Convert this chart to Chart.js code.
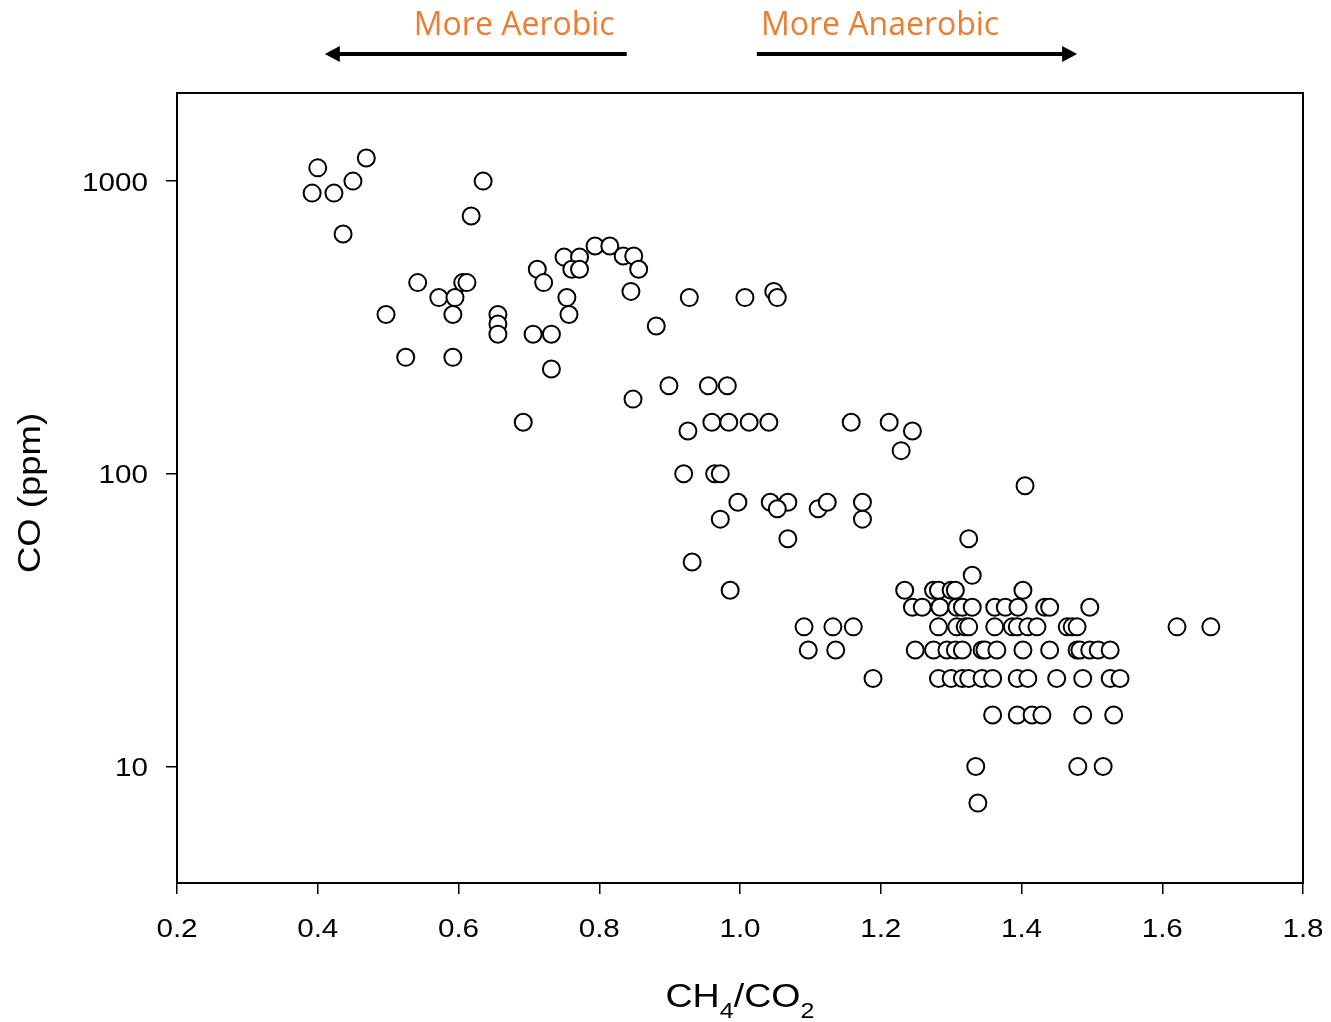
<!DOCTYPE html>
<html>
<head>
<meta charset="utf-8">
<title>CO vs CH4/CO2</title>
<script src="https://cdn.jsdelivr.net/npm/chart.js@4/dist/chart.umd.min.js"></script>
<style>
  body { margin: 0; background: #fff; }
  #wrap { width: 1331px; height: 1022px; }
</style>
</head>
<body>
<div id="wrap"><canvas id="coChart" width="1331" height="1022"></canvas></div>
<script>
// CH4/CO2 ratio and CO (ppm), one entry per circle
const ch4co2 = [
  0.392, 0.400, 0.423, 0.450, 0.469, 0.436, 0.635, 0.618,
  0.497, 0.525, 0.542, 0.572, 0.595, 0.592, 0.592, 0.606, 0.612, 0.656, 0.656, 0.656,
  0.706, 0.732, 0.732, 0.692, 0.712, 0.721, 0.750, 0.772, 0.761, 0.772, 0.794, 0.815,
  0.834, 0.849, 0.856, 0.845, 0.754, 0.757, 0.881, 0.899, 0.848,
  0.928, 1.007, 1.048, 1.053, 0.955, 0.982, 0.960, 0.984, 1.013, 1.041, 1.158, 0.926,
  0.920, 0.964, 0.972, 0.997, 1.043, 1.068, 1.053, 1.111, 1.124, 1.174, 1.174, 0.972,
  1.068, 0.932, 0.986, 1.212, 1.245, 1.229, 1.405, 1.325, 1.330,
  // 40 ppm row
  1.234, 1.275, 1.282, 1.300, 1.306, 1.402,
  // 35 ppm row
  1.245, 1.259, 1.284, 1.308, 1.316, 1.330, 1.362, 1.377, 1.395, 1.433, 1.440, 1.497,
  // 30 ppm row
  1.091, 1.132, 1.161, 1.282, 1.308, 1.320, 1.325, 1.362, 1.387, 1.394, 1.409, 1.422,
  1.465, 1.472, 1.479, 1.621, 1.669,
  // 25 ppm row
  1.097, 1.136, 1.249, 1.275, 1.294, 1.306, 1.316, 1.344, 1.348, 1.365, 1.402, 1.440,
  1.479, 1.483, 1.497, 1.509, 1.526,
  // 20 ppm row
  1.189, 1.282, 1.300, 1.316, 1.325, 1.344, 1.359, 1.394, 1.409, 1.450, 1.487, 1.526, 1.540,
  // 15, 10, 7.5 ppm
  1.359, 1.394, 1.415, 1.429, 1.487, 1.531,
  1.335, 1.480, 1.516,
  1.338
];
const coPpm = [
  910, 1110, 910, 1000, 1200, 660, 1000, 760,
  350, 250, 450, 400, 400, 350, 250, 450, 450, 350, 325, 300,
  300, 300, 228, 150, 500, 450, 550, 550, 500, 500, 600, 600,
  555, 555, 500, 420, 400, 350, 320, 200, 180,
  400, 400, 420, 400, 200, 200, 150, 150, 150, 150, 150, 140,
  100, 100, 100, 80, 80, 80, 76, 76, 80, 80, 70, 70,
  60, 50, 40, 150, 140, 120, 91, 60, 45,
  40, 40, 40, 40, 40, 40,
  35, 35, 35, 35, 35, 35, 35, 35, 35, 35, 35, 35,
  30, 30, 30, 30, 30, 30, 30, 30, 30, 30, 30, 30,
  30, 30, 30, 30, 30,
  25, 25, 25, 25, 25, 25, 25, 25, 25, 25, 25, 25,
  25, 25, 25, 25, 25,
  20, 20, 20, 20, 20, 20, 20, 20, 20, 20, 20, 20, 20,
  15, 15, 15, 15, 15, 15,
  10, 10, 10,
  7.5
];

const xTicks = [0.2, 0.4, 0.6, 0.8, 1.0, 1.2, 1.4, 1.6, 1.8];
const xTickLabels = ['0.2', '0.4', '0.6', '0.8', '1.0', '1.2', '1.4', '1.6', '1.8'];
const yTicks = [10, 100, 1000];
const yTickLabels = ['10', '100', '1000'];

// direction arrows above the plot, in CH4/CO2 units
const aerobicArrow = { label: 'More Aerobic', from: 0.839, to: 0.41 };
const anaerobicArrow = { label: 'More Anaerobic', from: 1.024, to: 1.479 };

const points = ch4co2.map((x, i) => ({ x: x, y: coPpm[i] }));

const STRETCH = 1.14;
const AXIS_FONT = '"Liberation Sans", Arial, sans-serif';

function stretchedText(ctx, text, x, y, align, font) {
  ctx.save();
  ctx.font = font;
  ctx.textAlign = align;
  ctx.textBaseline = 'alphabetic';
  ctx.translate(x, y);
  ctx.scale(STRETCH, 1);
  ctx.fillText(text, 0, 0);
  ctx.restore();
}

const decorPlugin = {
  id: 'decor',
  afterDraw(chart) {
    const ctx = chart.ctx;
    const area = chart.chartArea;
    const xs = chart.scales.x;
    const ys = chart.scales.y;

    // frame
    ctx.save();
    ctx.strokeStyle = '#000';
    ctx.lineWidth = 2;
    ctx.strokeRect(area.left, area.top, area.right - area.left, area.bottom - area.top);
    ctx.restore();

    // tick labels
    ctx.fillStyle = '#000';
    xTicks.forEach((v, i) => {
      stretchedText(ctx, xTickLabels[i], xs.getPixelForValue(v), 937, 'center', '26px ' + AXIS_FONT);
    });
    yTicks.forEach((v, i) => {
      stretchedText(ctx, yTickLabels[i], 148, ys.getPixelForValue(v) + 9.5, 'right', '26px ' + AXIS_FONT);
    });

    // x title with subscripts: CH4/CO2
    const big = '33px ' + AXIS_FONT;
    const small = '22px ' + AXIS_FONT;
    const parts = [['CH', big, 0], ['4', small, 11], ['/CO', big, 0], ['2', small, 11]];
    let total = 0;
    parts.forEach(p => { ctx.font = p[1]; total += ctx.measureText(p[0]).width * STRETCH; });
    let cx = (area.left + area.right) / 2 - total / 2;
    parts.forEach(p => {
      ctx.font = p[1];
      const w = ctx.measureText(p[0]).width * STRETCH;
      stretchedText(ctx, p[0], cx, 1007 + p[2], 'left', p[1]);
      cx += w;
    });

    // y title
    ctx.save();
    ctx.translate(40, 493);
    ctx.rotate(-Math.PI / 2);
    ctx.scale(STRETCH, 1);
    ctx.font = '32px ' + AXIS_FONT;
    ctx.textAlign = 'center';
    ctx.textBaseline = 'alphabetic';
    ctx.fillText('CO (ppm)', 0, 0);
    ctx.restore();

    // arrows and their labels
    [aerobicArrow, anaerobicArrow].forEach(a => {
      const x0 = xs.getPixelForValue(a.from);
      const x1 = xs.getPixelForValue(a.to);
      const dir = Math.sign(x1 - x0);
      const y = 54;
      ctx.save();
      ctx.strokeStyle = '#000';
      ctx.fillStyle = '#000';
      ctx.lineWidth = 4;
      ctx.beginPath();
      ctx.moveTo(x0, y);
      ctx.lineTo(x1 - dir * 12, y);
      ctx.stroke();
      ctx.beginPath();
      ctx.moveTo(x1, y);
      ctx.lineTo(x1 - dir * 15, y - 8);
      ctx.lineTo(x1 - dir * 15, y + 8);
      ctx.closePath();
      ctx.fill();
      ctx.restore();

      ctx.save();
      ctx.fillStyle = '#ED7D31';
      ctx.font = '32px "Open Sans", sans-serif';
      ctx.textAlign = 'left';
      ctx.textBaseline = 'alphabetic';
      const left = Math.min(x0, x1);
      const tx = dir < 0 ? x0 - ctx.measureText(a.label).width - 12 : x0 + 4;
      ctx.fillText(a.label, tx, 35);
      ctx.restore();
    });
  }
};

const ctx = document.getElementById('coChart').getContext('2d');
new Chart(ctx, {
  type: 'scatter',
  data: {
    datasets: [{
      label: 'CO',
      data: points,
      pointStyle: 'circle',
      pointRadius: 8.5,
      pointHoverRadius: 8.5,
      pointBackgroundColor: '#fff',
      pointBorderColor: '#000',
      pointBorderWidth: 2
    }]
  },
  options: {
    responsive: false,
    animation: false,
    events: [],
    layout: { padding: { left: 0, right: 28, top: 93, bottom: 0 } },
    plugins: {
      legend: { display: false },
      tooltip: { enabled: false }
    },
    scales: {
      x: {
        type: 'linear',
        min: 0.2,
        max: 1.8,
        afterBuildTicks: scale => { scale.ticks = xTicks.map(v => ({ value: v })); },
        afterFit: scale => { scale.height = 139; },
        ticks: { display: false },
        grid: { drawOnChartArea: false, drawTicks: true, tickLength: 11, color: '#000', lineWidth: 1.5 },
        border: { display: false }
      },
      y: {
        type: 'logarithmic',
        min: 4,
        max: 2000,
        afterBuildTicks: scale => { scale.ticks = yTicks.map(v => ({ value: v, major: true })); },
        afterFit: scale => { scale.width = 177; },
        ticks: { display: false },
        grid: { drawOnChartArea: false, drawTicks: true, tickLength: 11, color: '#000', lineWidth: 1.5 },
        border: { display: false }
      }
    }
  },
  plugins: [decorPlugin]
});
</script>
</body>
</html>
